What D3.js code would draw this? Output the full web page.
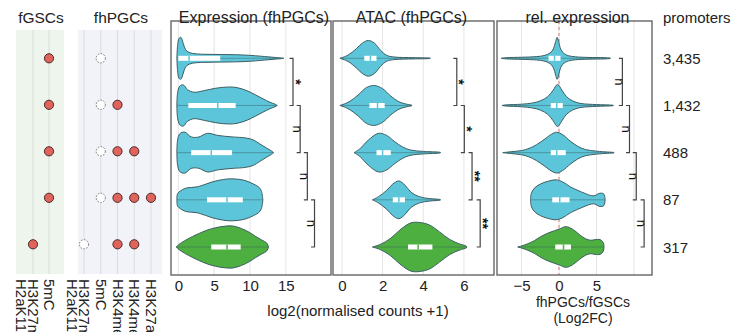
<!DOCTYPE html>
<html><head><meta charset="utf-8">
<script src="https://cdn.jsdelivr.net/npm/d3@7"></script>
<style>body{margin:0;background:#fff}svg{display:block;font-family:Arial,"Liberation Sans",sans-serif}</style>
</head><body><svg id="c" width="741" height="332"></svg>
<script>
// ---------- data ----------
const groups = ["3,435","1,432","488","87","317"];
const fgscMarks = ["H3K27me3|H2aK119ub","5mC"];
const fhpgcMarks = ["H3K27me3|H2aK119ub","5mC","H3K4me1","H3K4me3","H3K27ac"];
// 0 = none, 1 = filled, 2 = open dashed
const fgscDots = [[0,1],[0,1],[0,1],[0,1],[1,0]];
const fhpgcDots = [[0,2,0,0,0],[0,2,1,0,0],[0,2,1,1,0],[0,2,1,1,1],[2,0,1,1,0]];

// violin outlines: [value, relative half-width]
const exprDensity = [
  [[-0.2,0],[-0.1,0.6],[0.1,0.95],[0.35,1.0],[0.7,0.7],[1.0,0.42],[1.5,0.28],[2.5,0.21],[4,0.19],[6,0.18],[8,0.17],[10,0.14],[11.5,0.1],[12.5,0.07],[13.5,0.04],[14.4,0.015],[14.7,0]],
  [[-0.2,0],[-0.1,0.6],[0.2,0.92],[0.7,0.98],[1.3,0.75],[2.2,0.63],[3.5,0.7],[5.2,0.82],[7,0.88],[8.2,0.85],[9.6,0.7],[10.8,0.5],[11.8,0.32],[12.8,0.15],[13.5,0.06],[13.8,0]],
  [[-0.2,0],[-0.1,0.6],[0.2,0.9],[0.9,0.98],[1.8,0.75],[2.8,0.74],[4.1,0.92],[5.5,0.82],[7.5,0.75],[9.4,0.7],[10.5,0.6],[11.3,0.43],[12.3,0.22],[13.0,0.08],[13.3,0]],
  [[-0.2,0],[-0.1,0.3],[0.3,0.42],[1.0,0.55],[2.8,0.63],[4.7,0.85],[6.3,0.97],[7.5,1.0],[9.2,0.93],[10.5,0.75],[11.3,0.58],[11.6,0.4],[11.8,0]],
  [[-0.3,0],[0,0.1],[0.9,0.3],[2.0,0.5],[2.8,0.63],[4.0,0.8],[5.2,0.92],[6.5,0.99],[7.6,1.0],[8.8,0.88],[9.9,0.7],[10.8,0.5],[11.7,0.32],[12.3,0.2],[12.6,0]]
];
const exprBox = [[0,1.5,5.85],[1.4,5.5,8.0],[1.8,4.6,7.5],[4.0,6.8,9.0],[4.6,6.8,8.7]];

const atacDensity = [
  [[-0.1,0],[0.3,0.15],[0.7,0.45],[1.0,0.72],[1.3,0.85],[1.6,0.72],[1.9,0.38],[2.2,0.14],[2.6,0.06],[3.5,0.03],[4.3,0.012],[4.35,0]],
  [[-0.1,0],[0.3,0.15],[0.8,0.5],[1.2,0.85],[1.6,0.95],[2.0,0.8],[2.4,0.45],[2.8,0.18],[3.1,0.08],[3.4,0.02],[3.45,0]],
  [[0.6,0],[0.9,0.2],[1.3,0.6],[1.8,0.92],[2.2,0.82],[2.6,0.52],[3.0,0.26],[3.4,0.12],[4.0,0.06],[4.8,0.02],[4.85,0]],
  [[1.5,0],[1.8,0.15],[2.2,0.45],[2.5,0.75],[2.8,0.9],[3.1,0.7],[3.4,0.36],[3.8,0.15],[4.3,0.06],[4.8,0.02],[4.85,0]],
  [[1.5,0],[1.9,0.13],[2.4,0.42],[2.9,0.85],[3.4,1.15],[3.8,1.17],[4.3,1.05],[4.8,0.72],[5.3,0.36],[5.8,0.14],[6.1,0.05],[6.15,0]]
];
const atacBox = [[1.1,1.4,1.7],[1.35,1.75,2.1],[1.7,2.0,2.4],[2.5,2.8,3.1],[3.25,3.75,4.45]];

const relDensity = [
  [[-7.7,0],[-7,0.03],[-5,0.05],[-3,0.08],[-2,0.13],[-1.2,0.25],[-0.75,0.45],[-0.45,0.8],[-0.25,1.0],[-0.05,0.8],[0.25,0.42],[0.7,0.22],[1.3,0.12],[2.2,0.07],[4,0.04],[6,0.03],[6.8,0.01],[6.85,0]],
  [[-7.6,0],[-7,0.03],[-5,0.06],[-3.5,0.12],[-2.5,0.22],[-1.5,0.42],[-0.8,0.72],[-0.2,1.0],[0.4,0.72],[1.0,0.42],[1.8,0.22],[2.8,0.1],[4,0.06],[6,0.03],[7.2,0.01],[7.25,0]],
  [[-7.5,0],[-6.5,0.04],[-5,0.1],[-4,0.2],[-3,0.38],[-2,0.62],[-1,0.88],[-0.3,0.97],[0.5,0.85],[1.5,0.55],[2.5,0.3],[3.5,0.15],[5,0.07],[6.5,0.03],[7.3,0.01],[7.35,0]],
  [[-3.8,0],[-3.7,0.3],[-3.3,0.55],[-2.5,0.75],[-1.5,0.88],[-0.4,0.95],[0.5,0.85],[1.5,0.62],[2.5,0.45],[3.5,0.3],[4.3,0.2],[4.8,0.2],[5.3,0.3],[5.9,0.3],[6.1,0.15],[6.15,0]],
  [[-5.5,0],[-5,0.05],[-4.2,0.15],[-3.3,0.3],[-2.3,0.52],[-1.2,0.7],[0,0.85],[0.9,0.97],[1.8,0.85],[2.7,0.6],[3.5,0.4],[4.2,0.32],[4.8,0.35],[5.5,0.35],[5.9,0.2],[6.0,0]]
];
const relBox = [[-1.4,-0.6,0.2],[-1.1,-0.3,0.5],[-1.1,-0.3,0.9],[-0.9,0.1,1.4],[-0.5,0.6,1.6]];

const exprTicks = [0,5,10,15];
const atacTicks = [0,2,4,6];
const relTicks = [-5,0,5];
const relGrid = [-5,0,5,10];

const exprSig = ["*","n","n","n"];
const atacSig = ["*","*","**","**"];
const relSig = ["n","n","n","n"];
const exprBracketX = [16,17,18,19];
const atacBracketX = [5.65,6.02,6.4,6.8];
const relBracketX = [8.45,9.4,10.3,11.35];

// ---------- drawing ----------
const svg = d3.select("#c");
const CYAN = "#5cc5d9", GREEN = "#4caf3f", OUT = "#3d5e63", GRID = "#e4e4e4";
const pTop = 21, pBottom = 275;
const yV = d3.scalePoint().domain(groups).range([58.3, 247]);
const yD = d3.scalePoint().domain(groups).range([58.3, 244.3]);
const hw = d3.scaleLinear().domain([0,1]).range([0,21]);

// dot panels
function dotPanel(x0, x1, cols, colX, dots, title) {
  const g = svg.append("g");
  const xs = d3.scalePoint().domain(cols).range(colX);
  g.append("rect").attr("x", x0).attr("y", 30).attr("width", x1-x0).attr("height", 244)
    .attr("fill", title === "fGSCs" ? "#eef5ec" : "#f2f3f9");
  cols.forEach(c => g.append("line").attr("x1", xs(c)).attr("x2", xs(c)).attr("y1", 30).attr("y2", 274)
    .attr("stroke", "#dcdcdc").attr("stroke-width", 1));
  g.append("text").attr("x", (x0+x1)/2 + 1).attr("y", 23).attr("text-anchor", "middle")
    .attr("font-size", 15.5).attr("fill", "#222").text(title);
  dots.forEach((row, i) => row.forEach((v, j) => {
    if (!v) return;
    const c = g.append("circle").attr("cx", xs(cols[j])).attr("cy", yD(groups[i])).attr("r", 4.6);
    if (v === 1) c.attr("fill", "#e0645c").attr("stroke", "#4a2a28").attr("stroke-width", 1);
    else c.attr("fill", "#fff").attr("stroke", "#777").attr("stroke-width", 1).attr("stroke-dasharray", "1.6,1.4");
  }));
  cols.forEach(c => {
    const parts = c.split("|");
    parts.forEach((p, k) => {
      g.append("text").attr("transform", `translate(${xs(c) - 5 - k*12.5},279) rotate(90)`)
        .attr("font-size", 15).attr("fill", "#222").text(p);
    });
  });
}
dotPanel(16, 64, fgscMarks, [33, 49], fgscDots, "fGSCs");
dotPanel(78, 162, fhpgcMarks, [84, 151], fhpgcDots, "fhPGCs");

function violinPanel(opt) {
  const g = svg.append("g");
  const x = d3.scaleLinear().domain(opt.domain).range([opt.x0, opt.x1]);
  opt.grid.forEach(t => g.append("line").attr("x1", x(t)).attr("x2", x(t)).attr("y1", pTop).attr("y2", pBottom)
    .attr("stroke", GRID).attr("stroke-width", 1));
  if (opt.zeroLine) g.append("line").attr("x1", x(0)).attr("x2", x(0)).attr("y1", pTop).attr("y2", pBottom)
    .attr("stroke", "#e07a7a").attr("stroke-width", 1).attr("stroke-dasharray", "3,3");
  const area = d3.area().x(d => x(d[0])).curve(d3.curveCatmullRom.alpha(0.5));
  opt.density.forEach((dens, i) => {
    const cy = yV(groups[i]);
    const fill = i === 4 ? GREEN : CYAN;
    g.append("path").datum(dens)
      .attr("d", area.y0(d => cy - hw(d[1])).y1(d => cy + hw(d[1])))
      .attr("fill", fill).attr("stroke", OUT).attr("stroke-width", 1);
    g.append("line").attr("x1", x(dens[0][0])).attr("x2", x(dens[dens.length-1][0]))
      .attr("y1", cy).attr("y2", cy).attr("stroke", OUT).attr("stroke-opacity", 0.6).attr("stroke-width", 0.8);
    const b = opt.box[i];
    g.append("rect").attr("x", x(b[0])).attr("y", cy - 2.5).attr("width", x(b[2]) - x(b[0])).attr("height", 5)
      .attr("fill", "#fff");
    g.append("line").attr("x1", x(b[1])).attr("x2", x(b[1])).attr("y1", cy - 2.5).attr("y2", cy + 2.5)
      .attr("stroke", fill).attr("stroke-width", 1.5);
  });
  // brackets
  opt.sig.forEach((s, i) => {
    const bx = x(opt.bracketX[i]);
    const ya = yV(groups[i]), yb = yV(groups[i+1]);
    g.append("path").attr("d", `M${bx-3.5},${ya}H${bx}V${yb}H${bx-3.5}`)
      .attr("fill", "none").attr("stroke", "#444").attr("stroke-width", 1.2);
    const isStar = s.indexOf("*") >= 0;
    g.append("text").attr("transform", `translate(${bx - (isStar ? 2.5 : 7.5)},${(ya+yb)/2}) rotate(90)`)
      .attr("text-anchor", "middle").attr("font-size", isStar ? 14 : 13).attr("fill", "#111")
      .attr("font-weight", isStar ? "bold" : "normal").text(s);
  });
  // frame
  g.append("rect").attr("x", opt.x0).attr("y", pTop).attr("width", opt.x1 - opt.x0).attr("height", pBottom - pTop)
    .attr("fill", "none").attr("stroke", "#666").attr("stroke-width", 1.4);
  // axis
  const ax = g.append("g").attr("transform", `translate(0,${pBottom})`)
    .call(d3.axisBottom(x).tickValues(opt.ticks).tickSize(0).tickPadding(5).tickFormat(d3.format("d")));
  ax.select(".domain").remove();
  ax.selectAll("text").attr("font-size", 15).attr("fill", "#222").attr("font-family", "Arial, Liberation Sans, sans-serif");
  g.append("text").attr("x", (opt.x0+opt.x1)/2 + (opt.titleDx||0)).attr("y", 23).attr("text-anchor", "middle")
    .attr("font-size", 16).attr("fill", "#222").text(opt.title);
}

violinPanel({x0:171, x1:331, domain:[-1.02,21.3], grid:exprTicks, ticks:exprTicks, density:exprDensity, box:exprBox,
  sig:exprSig, bracketX:exprBracketX, title:"Expression (fhPGCs)", titleDx:3});
violinPanel({x0:333, x1:494, domain:[-0.44,7.48], grid:atacTicks, ticks:atacTicks, density:atacDensity, box:atacBox,
  sig:atacSig, bracketX:atacBracketX, title:"ATAC (fhPGCs)", titleDx:-2});
violinPanel({x0:497, x1:652, domain:[-8.27,12.4], grid:relGrid, ticks:relTicks, density:relDensity, box:relBox,
  sig:relSig, bracketX:relBracketX, title:"rel. expression", titleDx:3, zeroLine:true});

svg.append("text").attr("x", 358).attr("y", 316).attr("text-anchor", "middle").attr("font-size", 15)
  .attr("fill", "#222").text("log2(normalised counts +1)");
svg.append("text").attr("x", 583).attr("y", 307).attr("text-anchor", "middle").attr("font-size", 14)
  .attr("fill", "#222").text("fhPGCs/fGSCs");
svg.append("text").attr("x", 583).attr("y", 323).attr("text-anchor", "middle").attr("font-size", 14)
  .attr("fill", "#222").text("(Log2FC)");

svg.append("text").attr("x", 663).attr("y", 23).attr("font-size", 15).attr("fill", "#222").text("promoters");
groups.forEach(gname => svg.append("text").attr("x", 663).attr("y", yV(gname) + 5.5)
  .attr("font-size", 15).attr("fill", "#222").text(gname));
</script></body></html>
